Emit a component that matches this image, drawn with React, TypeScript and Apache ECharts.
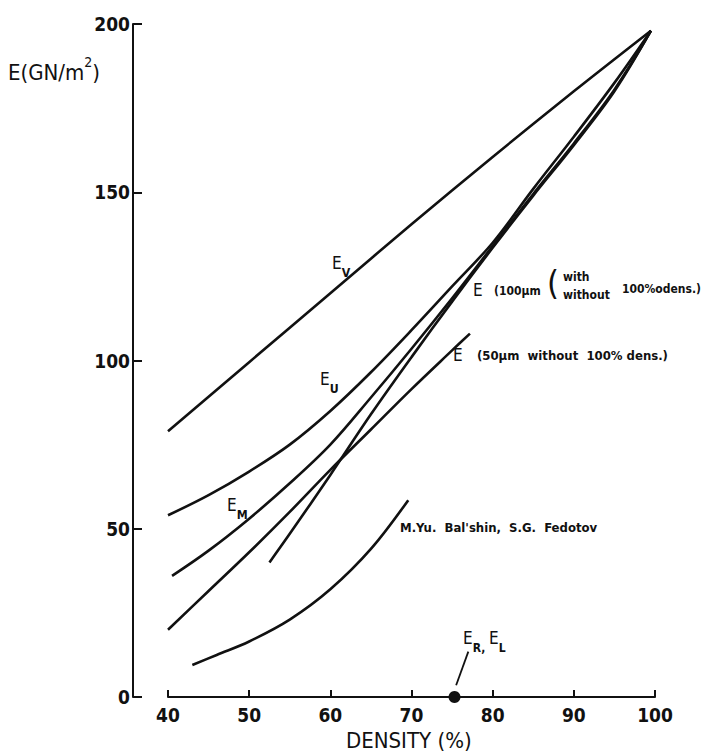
import React, { useEffect, useRef } from "react";
import * as echarts from "echarts";

// ---- data ----
const xMin = 40;
const xMax = 100;
const yMin = 0;
const yMax = 200;

const eV = [[40, 79], [50, 99.5], [60, 120], [70, 140.5], [80, 160.5], [90, 180], [99.5, 198]];
const eU = [[40, 54], [45, 60], [50, 67], [55, 75], [60, 85], [65, 96.5], [70, 109], [75, 122], [80, 135], [85, 151], [90, 166.5], [95, 182.5], [99.5, 198]];
const eM = [[40.5, 36], [45, 43.5], [50, 53], [55, 63.5], [60, 75], [65, 89], [70, 103.5], [75, 118.5], [80, 134], [85, 149.5], [90, 164.5], [95, 180.5], [99.5, 198]];
const e100 = [[52.5, 40], [55, 48.5], [60, 66], [65, 84], [70, 101], [75, 117.5], [80, 133.5], [85, 149], [90, 164], [95, 180], [99.5, 198]];
const e50 = [[40, 20], [45, 31.5], [50, 43], [55, 55], [60, 67.5], [65, 79.5], [70, 91.5], [75, 103], [77.2, 108]];
const balshin = [[43, 9.5], [46, 12.5], [50, 16.5], [55, 23], [60, 32], [65, 44], [69.6, 58.5]];
const erPoint = [[75.3, 0]];
const erLeader = [[75.5, 3.5], [77.0, 13.5]];

const FONT = "'DejaVu Sans Condensed', 'Liberation Sans Narrow', 'DejaVu Sans', sans-serif";
const INK = "#111";

function curve(name: string, data: number[][]) {
  return {
    name,
    type: "line",
    data,
    smooth: 0.35,
    symbol: "none",
    lineStyle: { color: INK, width: 2.6 },
    z: 3,
  };
}

function subLabel(main: string, sub: string, x: number, y: number, size = 17) {
  return {
    type: "text",
    left: x,
    top: y,
    style: {
      text: `{e|${main}}{s|${sub}}`,
      rich: {
        e: { fontSize: size, fontFamily: FONT, fill: INK, lineHeight: size + 8, verticalAlign: "top" },
        s: { fontSize: size * 0.72, fontFamily: FONT, fill: INK, fontWeight: "bold", lineHeight: size + 8, verticalAlign: "bottom" },
      },
    },
  };
}

function smallText(text: string, x: number, y: number, size = 12, weight: string = "bold") {
  return {
    type: "text",
    left: x,
    top: y,
    style: { text, fontSize: size, fontFamily: FONT, fontWeight: weight, fill: INK },
  };
}

export default function App() {
  const ref = useRef<HTMLDivElement>(null);
  useEffect(() => {
    const chart = echarts.init(ref.current!, null, { renderer: "svg" });
    chart.setOption({
      animation: false,
      backgroundColor: "#fff",
      grid: { left: 168, right: 49, top: 24, bottom: 55, containLabel: false },
      xAxis: {
        type: "value",
        min: xMin,
        max: xMax,
        interval: 10,
        axisLine: { show: true, lineStyle: { color: INK, width: 2 } },
        axisTick: { show: true, inside: true, length: 7, lineStyle: { color: INK, width: 2 } },
        axisLabel: { color: INK, fontSize: 19, fontWeight: "bold", fontFamily: FONT, margin: 8, showMinLabel: true, showMaxLabel: true },
        splitLine: { show: false },
      },
      yAxis: {
        type: "value",
        min: yMin,
        max: yMax,
        interval: 50,
        offset: 35,
        axisLine: { show: true, lineStyle: { color: INK, width: 2 } },
        axisTick: { show: true, inside: true, length: 9, lineStyle: { color: INK, width: 2 } },
        axisLabel: { color: INK, fontSize: 19, fontWeight: "bold", fontFamily: FONT, margin: 3 },
        splitLine: { show: false },
      },
      series: [
        curve("E_V", eV),
        curve("E_U", eU),
        curve("E_M", eM),
        curve("E 100µm", e100),
        curve("E 50µm", e50),
        curve("Bal'shin", balshin),
        {
          name: "E_R leader",
          type: "line",
          data: erLeader,
          symbol: "none",
          lineStyle: { color: INK, width: 1.8 },
        },
        {
          name: "E_R, E_L",
          type: "scatter",
          data: erPoint,
          symbolSize: 12,
          itemStyle: { color: INK, opacity: 1 },
          clip: false,
          z: 5,
        },
      ],
      graphic: [
        {
          type: "text",
          left: 8,
          top: 55,
          style: {
            text: "{a|E(GN/m}{s|2}{a|)}",
            rich: {
              a: { fontSize: 22, fontFamily: FONT, fill: INK, lineHeight: 28, verticalAlign: "bottom" },
              s: { fontSize: 14, fontFamily: FONT, fill: INK, lineHeight: 28, verticalAlign: "top" },
            },
          },
        },
        {
          type: "text",
          left: 346,
          top: 729,
          style: {
            text: "DENSITY (%)",
            fontSize: 22,
            lineHeight: 22,
            fontFamily: FONT,
            fill: INK,
          },
        },
        subLabel("E", "V", 332, 254),
        subLabel("E", "U", 320, 370),
        subLabel("E", "M", 227, 496),
        {
          type: "text",
          left: 463,
          top: 629,
          style: {
            text: "{e|E}{s|R, }{e|E}{s|L}",
            rich: {
              e: { fontSize: 17, fontFamily: FONT, fill: INK, lineHeight: 25, verticalAlign: "top" },
              s: { fontSize: 12, fontFamily: FONT, fill: INK, fontWeight: "bold", lineHeight: 25, verticalAlign: "bottom" },
            },
          },
        },
        smallText("E", 473, 281, 17, "normal"),
        smallText("(100µm", 494, 285, 12),
        smallText("(", 547, 266, 34, "normal"),
        smallText("with", 563, 271, 12),
        smallText("without", 563, 289, 12),
        smallText("100%odens.)", 622, 283, 12),
        smallText("E", 453, 346, 17, "normal"),
        smallText("(50µm  without  100% dens.)", 477, 349, 13),
        smallText("M.Yu.  Bal'shin,  S.G.  Fedotov", 400, 521, 13),
      ],
    });
    return () => chart.dispose();
  }, []);
  return (
    <div
      ref={ref}
      style={{ position: "absolute", left: 0, top: 0, width: 704, height: 752, background: "#fff" }}
    />
  );
}
